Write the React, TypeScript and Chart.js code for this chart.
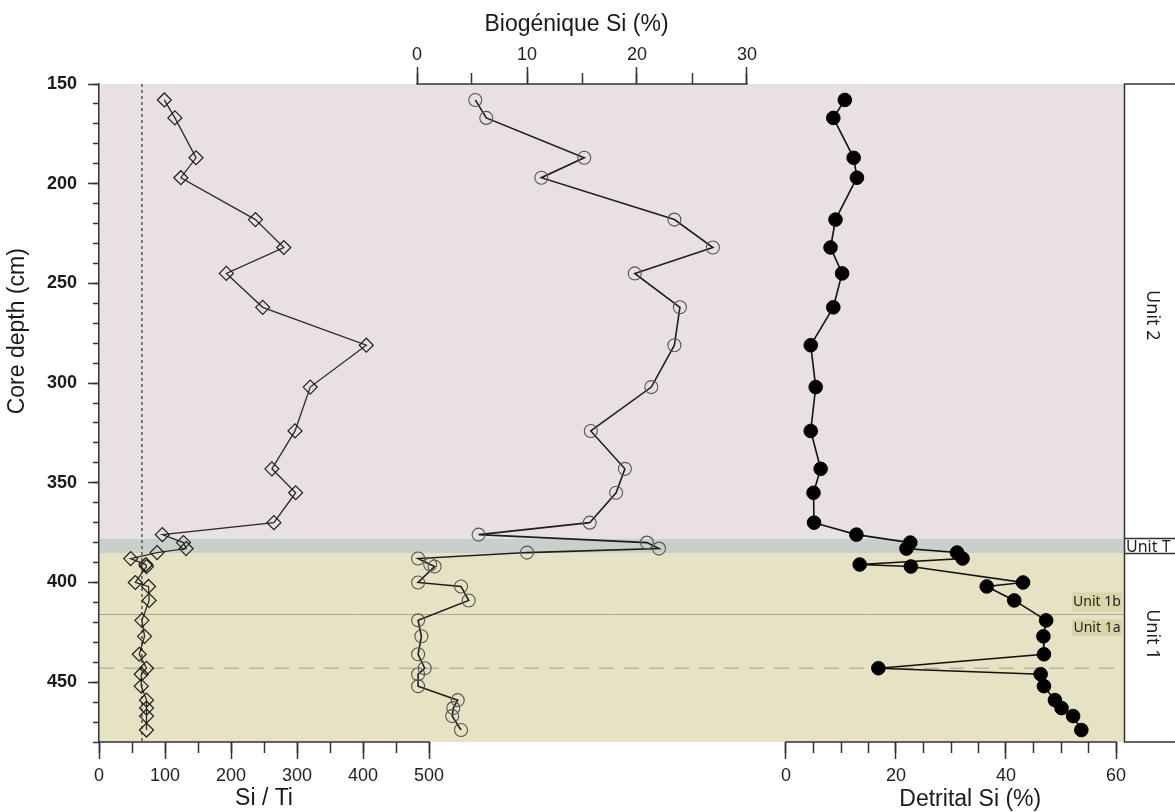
import React, { useEffect, useRef } from "react";
import { Chart, registerables } from "chart.js";

Chart.register(...registerables);

// ---------------- DATA ----------------
const DEPTH_CM = [158, 167, 187, 197, 218, 232, 245, 262, 281, 302, 324, 343, 355, 370, 376, 380, 383, 385, 388, 391, 392, 400, 402, 409, 419, 427, 436, 443, 446, 452, 459, 463, 467, 474];
const SI_TI = [99, 115, 147, 124, 237, 280, 193, 248, 405, 320, 297, 262, 298, 265, 96, 128, 132, 88, 48, 71, 72, 55, 75, 76, 65, 69, 61, 72, 64, 64, 72, 72, 72, 72];
const BIOGENIC_SI = [5.3, 6.3, 15.2, 11.3, 23.4, 26.9, 19.8, 23.9, 23.4, 21.3, 15.8, 18.9, 18.1, 15.7, 5.6, 20.9, 22.0, 10.0, 0.1, 1.2, 1.6, 0.1, 4.0, 4.7, 0.1, 0.4, 0.1, 0.7, 0.1, 0.1, 3.7, 3.3, 3.2, 4.0];
const DETRITAL_SI = [10.7, 8.6, 12.3, 12.9, 9.0, 8.1, 10.2, 8.6, 4.5, 5.4, 4.5, 6.3, 5.0, 5.1, 12.8, 22.6, 21.9, 31.1, 32.1, 13.4, 22.7, 43.1, 36.5, 41.5, 47.3, 46.8, 46.9, 16.8, 46.3, 46.9, 48.9, 50.1, 52.2, 53.7];
const SI_TI_THRESHOLD = 65;

const DEPTH_MIN = 150;
const DEPTH_MAX = 480;
const Y_MAJOR_TICKS = [150, 200, 250, 300, 350, 400, 450];
const Y_MINOR_TICKS = [150, 160, 170, 180, 190, 200, 210, 220, 230, 240, 250, 260, 270, 280, 290, 300, 310, 320, 330, 340, 350, 360, 370, 380, 390, 400, 410, 420, 430, 440, 450, 460, 470, 480];
const SI_TI_TICKS = [0, 100, 200, 300, 400, 500];
const SI_TI_MINOR_TICKS = [0, 50, 100, 150, 200, 250, 300, 350, 400, 450, 500];
const BIO_TICKS = [0, 10, 20, 30];
const BIO_MINOR_TICKS = [0, 5, 10, 15, 20, 25, 30];
const DET_TICKS = [0, 20, 40, 60];
const DET_MINOR_TICKS = [0, 5, 10, 15, 20, 25, 30, 35, 40, 45, 50, 55, 60];

const UNIT_T_TOP = 378;
const UNIT_T_BOTTOM = 385.5;
const UNIT_1B_TOP = 405;
const UNIT_1B_BOTTOM = 414.5;
const UNIT_1A_TOP = 418.5;
const UNIT_1A_BOTTOM = 427;
const UNIT_1_SPLIT = 416;
const DASHED_DEPTH = 443;

// ---------------- LAYOUT ----------------
const W = 1175;
const H = 812;
const AREA_LEFT = 99;
const AREA_RIGHT = 1124;
const AREA_TOP = 84;
const AREA_BOTTOM = 742;
const AREA_W = AREA_RIGHT - AREA_LEFT;

function axisRange(lo: number, hi: number, pxLo: number, pxHi: number) {
  const pxPerUnit = (pxHi - pxLo) / (hi - lo);
  const min = lo - (pxLo - AREA_LEFT) / pxPerUnit;
  return { min, max: min + AREA_W / pxPerUnit };
}
const SI_RANGE = axisRange(0, 500, 99, 429);
const BIO_RANGE = axisRange(0, 30, 417, 747);
const DET_RANGE = axisRange(0, 60, 786, 1116);

const SANS = "'Liberation Sans', Arial, Helvetica, sans-serif";
const UNIT_FONT = "'Noto Sans', 'Open Sans', sans-serif";
const AXIS_COLOR = "#333";

function xAxis(range: { min: number; max: number }, ticks: number[], top: boolean, minor: boolean) {
  return {
    type: "linear",
    axis: "x",
    min: range.min,
    max: range.max,
    position: { y: top ? DEPTH_MIN : DEPTH_MAX },
    afterBuildTicks: (s: any) => {
      s.ticks = ticks.map((v) => ({ value: v }));
    },
    border: { display: false },
    grid: {
      display: true,
      drawOnChartArea: false,
      drawTicks: true,
      tickLength: (top ? -1 : 1) * (minor ? 11 : 17),
      tickColor: AXIS_COLOR,
      tickWidth: 1.5,
    },
    ticks: {
      display: !minor,
      autoSkip: false,
      maxRotation: 0,
      minRotation: 0,
      padding: top ? -23 : 6,
      font: { family: SANS, size: 18, lineHeight: 1.2 },
      color: "#222",
      callback: (v: any) => String(v),
    },
  };
}

const overlayPlugin = {
  id: "overlay",
  beforeDraw(chart: any) {
    const { ctx, chartArea: a } = chart;
    const y = chart.scales.y;
    const bands: [number, number, string][] = [
      [DEPTH_MIN, UNIT_T_TOP, "#e8e0e1"],
      [UNIT_T_TOP, UNIT_T_BOTTOM, "#c9cfca"],
      [UNIT_T_BOTTOM, DEPTH_MAX, "#e6e2c3"],
    ];
    ctx.save();
    for (const [d0, d1, c] of bands) {
      const p0 = y.getPixelForValue(d0);
      const p1 = y.getPixelForValue(d1);
      ctx.fillStyle = c;
      ctx.fillRect(a.left, p0, a.right - a.left, p1 - p0);
    }
    ctx.strokeStyle = "#aaa78f";
    ctx.lineWidth = 1;
    const ys = Math.round(y.getPixelForValue(UNIT_1_SPLIT)) + 0.5;
    ctx.beginPath();
    ctx.moveTo(a.left, ys);
    ctx.lineTo(a.right, ys);
    ctx.stroke();
    ctx.strokeStyle = "#bab69e";
    ctx.lineWidth = 1.5;
    ctx.setLineDash([15, 10]);
    const yd = y.getPixelForValue(DASHED_DEPTH);
    ctx.beginPath();
    ctx.moveTo(a.left, yd);
    ctx.lineTo(a.right, yd);
    ctx.stroke();
    ctx.setLineDash([]);
    ctx.fillStyle = "#d9d5a8";
    for (const [d0, d1] of [[UNIT_1B_TOP, UNIT_1B_BOTTOM], [UNIT_1A_TOP, UNIT_1A_BOTTOM]]) {
      const p0 = y.getPixelForValue(d0);
      const p1 = y.getPixelForValue(d1);
      ctx.fillRect(a.right - 52, p0, 50, p1 - p0);
    }
    ctx.restore();
  },
  afterDraw(chart: any) {
    const { ctx, chartArea: a, scales } = chart;
    const y = scales.y;
    ctx.save();
    ctx.strokeStyle = AXIS_COLOR;
    ctx.lineWidth = 1.5;
    const lines: [any, number, number, number][] = [
      [scales.xSi, 0, 500, a.bottom],
      [scales.xBio, 0, 30, a.top],
      [scales.xDet, 0, 60, a.bottom],
    ];
    for (const [s, lo, hi, py] of lines) {
      ctx.beginPath();
      ctx.moveTo(s.getPixelForValue(lo) - 0.75, py);
      ctx.lineTo(s.getPixelForValue(hi) + 0.75, py);
      ctx.stroke();
    }
    ctx.beginPath();
    ctx.moveTo(a.right + 0.5, a.top);
    ctx.lineTo(a.right + 0.5, a.bottom);
    ctx.moveTo(a.right, a.top);
    ctx.lineTo(W, a.top);
    ctx.moveTo(a.right, a.bottom);
    ctx.lineTo(W, a.bottom);
    ctx.moveTo(a.right, y.getPixelForValue(UNIT_T_TOP));
    ctx.lineTo(W, y.getPixelForValue(UNIT_T_TOP));
    ctx.moveTo(a.right, y.getPixelForValue(UNIT_T_BOTTOM));
    ctx.lineTo(W, y.getPixelForValue(UNIT_T_BOTTOM));
    ctx.stroke();

    ctx.fillStyle = "#1e1e1e";
    ctx.textAlign = "center";
    ctx.textBaseline = "middle";
    ctx.font = `18px ${UNIT_FONT}`;
    const rot = (text: string, x: number, py: number, ang: number) => {
      ctx.save();
      ctx.translate(x, py);
      ctx.rotate(ang);
      ctx.fillText(text, 0, 0);
      ctx.restore();
    };
    rot("Unit 2", a.right + 28, y.getPixelForValue(266), Math.PI / 2);
    rot("Unit 1", a.right + 28, y.getPixelForValue(426), Math.PI / 2);
    ctx.textAlign = "left";
    ctx.font = `16px ${UNIT_FONT}`;
    ctx.fillText("Unit T", a.right + 2, (y.getPixelForValue(UNIT_T_TOP) + y.getPixelForValue(UNIT_T_BOTTOM)) / 2 + 1);
    ctx.textAlign = "center";
    ctx.font = `14px ${UNIT_FONT}`;
    ctx.fillText("Unit 1b", a.right - 27, (y.getPixelForValue(UNIT_1B_TOP) + y.getPixelForValue(UNIT_1B_BOTTOM)) / 2);
    ctx.fillText("Unit 1a", a.right - 27, (y.getPixelForValue(UNIT_1A_TOP) + y.getPixelForValue(UNIT_1A_BOTTOM)) / 2);

    ctx.fillStyle = "#1a1a1a";
    ctx.font = `23px ${SANS}`;
    ctx.fillText("Si / Ti", (scales.xSi.getPixelForValue(0) + scales.xSi.getPixelForValue(500)) / 2, a.bottom + 57);
    ctx.fillText("Detrital Si (%)", scales.xDet.getPixelForValue(33.5), a.bottom + 58);
    ctx.fillText("Biogénique Si (%)", scales.xBio.getPixelForValue(14.5), a.top - 59);
    rot("Core depth (cm)", 18, y.getPixelForValue(274), -Math.PI / 2);
    ctx.restore();
  },
};

export default function App() {
  const ref = useRef<HTMLCanvasElement>(null);
  useEffect(() => {
    const canvas = ref.current;
    if (!canvas) return;
    const pts = (xs: number[]) => DEPTH_CM.map((d, i) => ({ x: xs[i], y: d }));
    const chart = new Chart(canvas, {
      type: "line",
      data: {
        datasets: [
          {
            label: "Si/Ti",
            data: pts(SI_TI),
            xAxisID: "xSi",
            yAxisID: "y",
            borderColor: "#2a2a2a",
            borderWidth: 1.3,
            pointStyle: "rectRot",
            pointRadius: 7,
            pointBorderColor: "#1e1e1e",
            pointBackgroundColor: "rgba(0,0,0,0)",
            pointBorderWidth: 1.2,
            tension: 0,
          },
          {
            label: "Biogénique Si (%)",
            data: pts(BIOGENIC_SI),
            xAxisID: "xBio",
            yAxisID: "y",
            borderColor: "#1e1e1e",
            borderWidth: 1.6,
            pointStyle: "circle",
            pointRadius: 6.5,
            pointBorderColor: "#555",
            pointBackgroundColor: "rgba(0,0,0,0)",
            pointBorderWidth: 1.1,
            tension: 0,
          },
          {
            label: "Detrital Si (%)",
            data: pts(DETRITAL_SI),
            xAxisID: "xDet",
            yAxisID: "y",
            borderColor: "#111",
            borderWidth: 1.6,
            pointStyle: "circle",
            pointRadius: 6.8,
            pointBorderColor: "#000",
            pointBackgroundColor: "#000",
            pointBorderWidth: 1,
            tension: 0,
          },
          {
            label: "threshold",
            data: [
              { x: SI_TI_THRESHOLD, y: DEPTH_MIN },
              { x: SI_TI_THRESHOLD, y: DEPTH_MAX },
            ],
            xAxisID: "xSi",
            yAxisID: "y",
            borderColor: "#555",
            borderWidth: 1.5,
            borderDash: [3, 3],
            pointRadius: 0,
          },
        ],
      },
      options: {
        responsive: false,
        maintainAspectRatio: false,
        animation: false,
        devicePixelRatio: 1,
        events: [],
        layout: { padding: { left: 0, right: W - AREA_RIGHT, top: AREA_TOP, bottom: H - AREA_BOTTOM } },
        plugins: { legend: { display: false }, tooltip: { enabled: false }, title: { display: false } },
        scales: {
          y: {
            type: "linear",
            axis: "y",
            position: "left",
            reverse: true,
            min: DEPTH_MIN,
            max: DEPTH_MAX,
            afterBuildTicks: (s: any) => {
              s.ticks = Y_MAJOR_TICKS.map((v) => ({ value: v }));
            },
            afterFit: (s: any) => {
              s.width = AREA_LEFT;
            },
            border: { display: true, color: AXIS_COLOR, width: 1.5 },
            grid: { drawOnChartArea: false, drawTicks: true, tickLength: 11, tickColor: AXIS_COLOR, tickWidth: 1.5 },
            ticks: {
              autoSkip: false,
              padding: 11,
              font: { family: SANS, size: 18, weight: "bold" },
              color: "#1a1a1a",
              callback: (v: any) => String(v),
            },
          },
          yMinor: {
            type: "linear",
            axis: "y",
            position: { xSi: 0 },
            reverse: true,
            min: DEPTH_MIN,
            max: DEPTH_MAX,
            afterBuildTicks: (s: any) => {
              s.ticks = Y_MINOR_TICKS.map((v) => ({ value: v }));
            },
            border: { display: false },
            grid: { drawOnChartArea: false, drawTicks: true, tickLength: 6, tickColor: AXIS_COLOR, tickWidth: 1.5 },
            ticks: { display: false },
          },
          xSi: xAxis(SI_RANGE, SI_TI_TICKS, false, false),
          xSiMinor: xAxis(SI_RANGE, SI_TI_MINOR_TICKS, false, true),
          xBio: xAxis(BIO_RANGE, BIO_TICKS, true, false),
          xBioMinor: xAxis(BIO_RANGE, BIO_MINOR_TICKS, true, true),
          xDet: xAxis(DET_RANGE, DET_TICKS, false, false),
          xDetMinor: xAxis(DET_RANGE, DET_MINOR_TICKS, false, true),
        } as any,
      },
      plugins: [overlayPlugin],
    } as any);
    return () => chart.destroy();
  }, []);
  return (
    <div style={{ position: "absolute", left: 0, top: 0, width: W, height: H, background: "#fff" }}>
      <canvas ref={ref} width={W} height={H} style={{ display: "block", width: W, height: H }} />
    </div>
  );
}
